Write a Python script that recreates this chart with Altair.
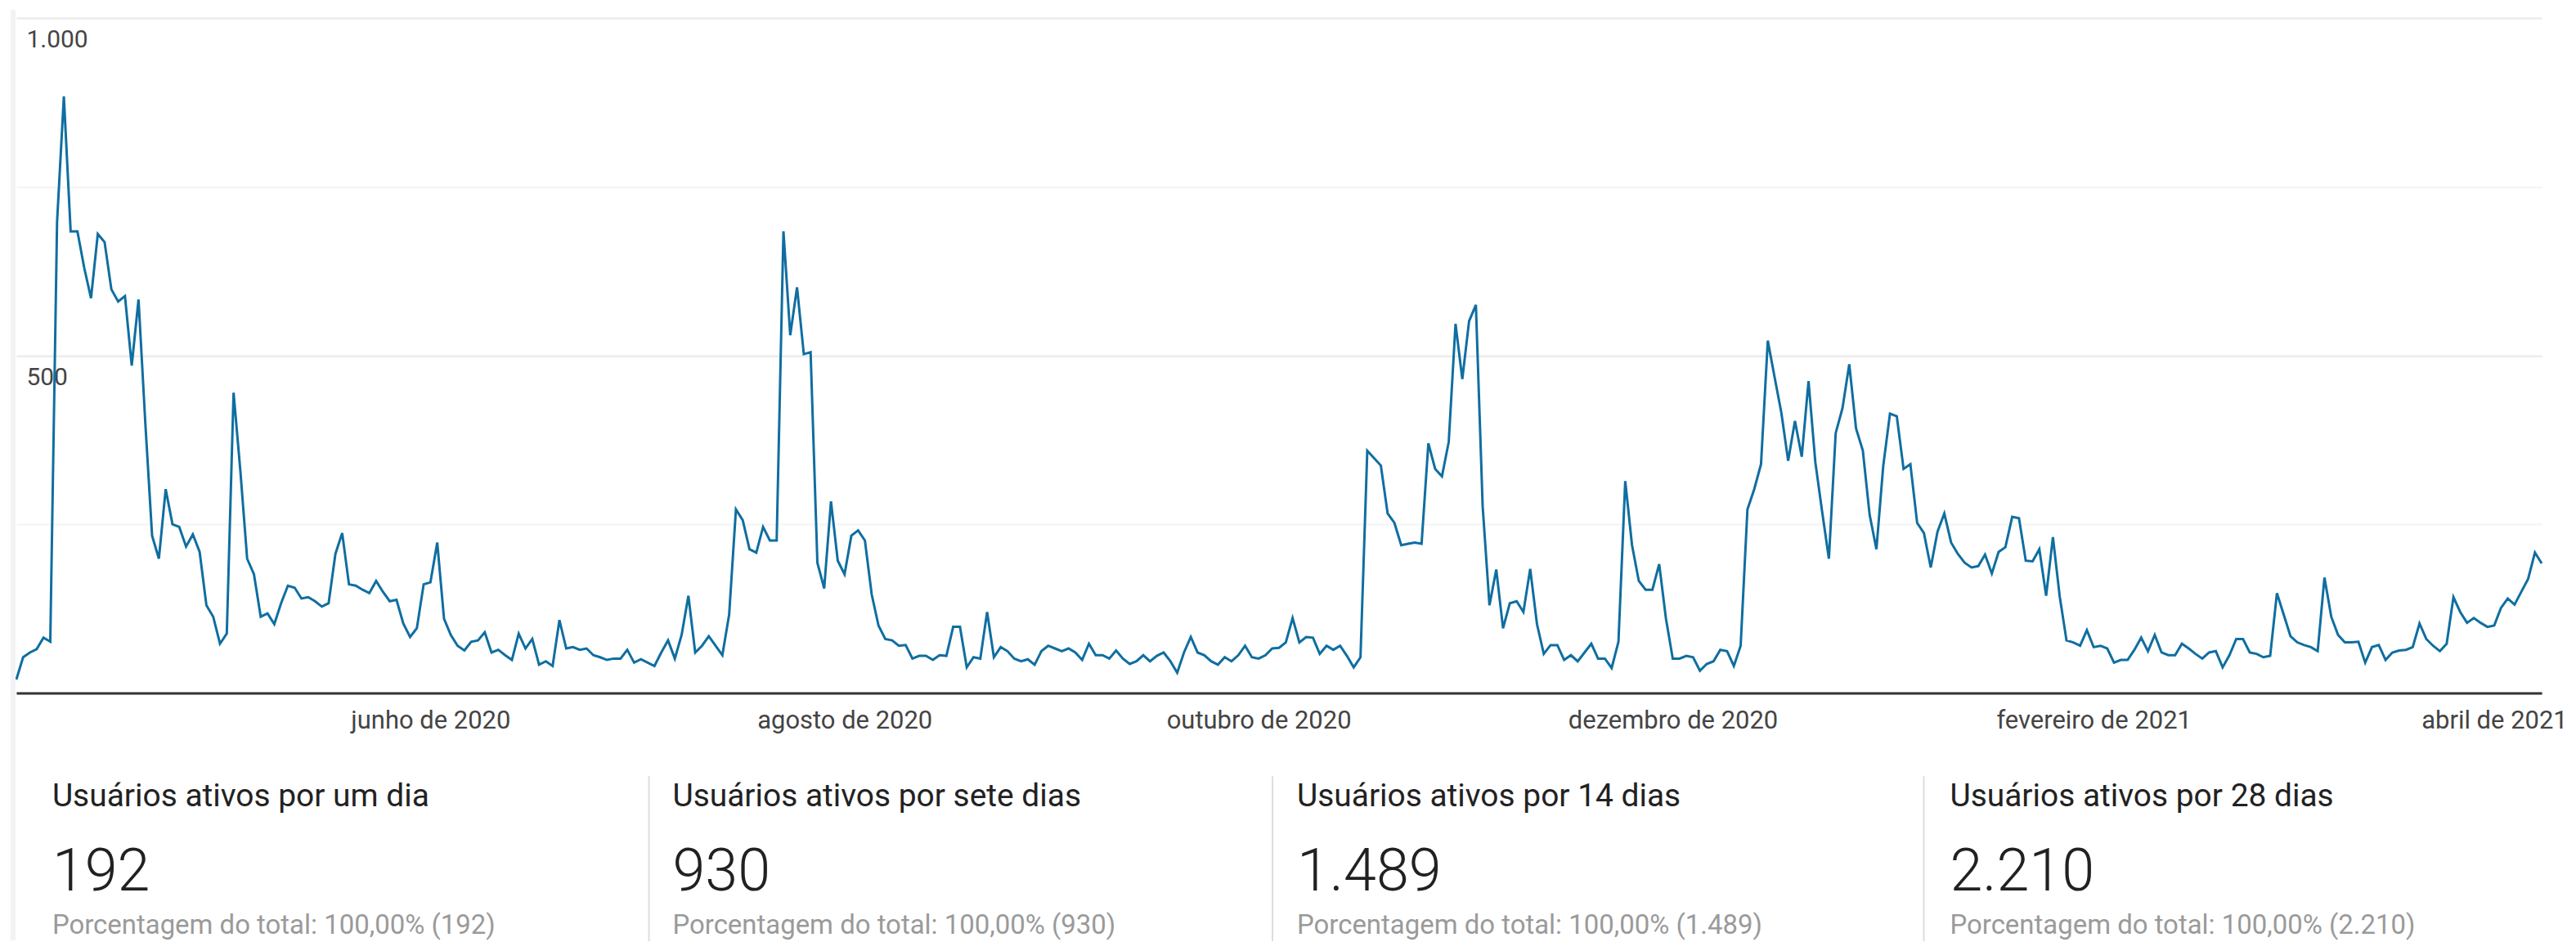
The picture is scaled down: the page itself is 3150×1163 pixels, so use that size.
import altair as alt
import pandas as pd

# ---------------- data ----------------
start_date = "2020-04-01"
usuarios = [
    20, 53, 60, 65, 82, 76, 698, 884, 684, 684,
    630, 585, 680, 668, 598, 580, 588, 485, 583, 400,
    233, 199, 302, 250, 246, 217, 235, 209, 130, 113,
    73, 88, 445, 329, 199, 176, 113, 118, 102, 133,
    159, 156, 140, 142, 136, 128, 133, 206, 237, 161,
    159, 153, 148, 166, 150, 136, 138, 103, 83, 96,
    161, 164, 223, 110, 86, 70, 63, 76, 78, 90,
    60, 64, 56, 49, 88, 66, 80, 42, 47, 40,
    108, 66, 68, 64, 66, 56, 53, 49, 51, 51,
    64, 45, 50, 45, 40, 60, 78, 51, 86, 144,
    60, 70, 84, 70, 56, 116, 272, 256, 213, 208,
    246, 226, 226, 684, 530, 601, 502, 505, 193, 155,
    284, 196, 176, 233, 241, 226, 146, 100, 80, 78,
    70, 71, 51, 55, 55, 49, 56, 55, 98, 98,
    38, 53, 51, 120, 53, 68, 62, 51, 47, 50,
    42, 62, 70, 66, 62, 66, 60, 49, 73, 56,
    56, 51, 63, 51, 43, 47, 56, 47, 55, 60,
    47, 30, 60, 83, 60, 56, 47, 42, 53, 47,
    56, 70, 53, 51, 56, 66, 67, 75, 111, 75,
    83, 82, 58, 70, 64, 70, 55, 38, 53, 359,
    348, 337, 266, 252, 219, 221, 223, 221, 370, 332,
    321, 372, 547, 465, 551, 575, 276, 130, 183, 96,
    133, 136, 120, 184, 102, 58, 71, 71, 49, 56,
    47, 60, 73, 51, 51, 37, 76, 314, 219, 166,
    153, 153, 191, 110, 51, 51, 55, 53, 33, 43,
    47, 64, 62, 40, 70, 272, 302, 339, 522, 468,
    415, 344, 403, 350, 462, 342, 269, 199, 385, 422,
    487, 392, 359, 264, 213, 336, 414, 410, 332, 339,
    252, 237, 186, 239, 266, 223, 206, 193, 186, 188,
    205, 177, 209, 216, 261, 259, 196, 195, 213, 144,
    231, 143, 78, 75, 70, 93, 68, 70, 66, 45,
    49, 49, 64, 82, 62, 86, 60, 56, 56, 73,
    66, 58, 51, 60, 62, 38, 56, 80, 80, 60,
    58, 53, 55, 148, 116, 84, 75, 71, 68, 62,
    171, 113, 86, 75, 75, 76, 45, 68, 71, 49,
    60, 63, 64, 68, 103, 80, 70, 62, 73, 142,
    120, 104, 111, 104, 98, 100, 126, 140, 131, 150,
    169, 208, 192,
]

y_ticks = [0, 250, 500, 750, 1000]
y_tick_labels = ["", "", "500", "", "1.000"]
x_ticks = ["2020-06-01", "2020-08-01", "2020-10-01", "2020-12-01", "2021-02-01", "2021-04-01"]
meses = ["janeiro", "fevereiro", "março", "abril", "maio", "junho", "julho",
         "agosto", "setembro", "outubro", "novembro", "dezembro"]

card_titles = ["Usuários ativos por um dia", "Usuários ativos por sete dias",
               "Usuários ativos por 14 dias", "Usuários ativos por 28 dias"]
card_values = ["192", "930", "1.489", "2.210"]
card_subtitles = ["Porcentagem do total: 100,00% (192)", "Porcentagem do total: 100,00% (930)",
                  "Porcentagem do total: 100,00% (1.489)", "Porcentagem do total: 100,00% (2.210)"]

# ---------------- build ----------------
def ms(d):
    return int(pd.Timestamp(d, tz="UTC").value // 10**6)

dates = pd.date_range(start_date, periods=len(usuarios), freq="D", tz="UTC")
df = pd.DataFrame({"t": [int(d.value // 10**6) for d in dates], "usuarios": usuarios})

FONT = "Roboto"
W, H = 3094, 827
LINE_COLOR = "#0f6ea0"

y_label_expr = " : ".join(
    [f"datum.value == {v} ? '{l}'" for v, l in zip(y_ticks, y_tick_labels)]
) + " : ''"
month_arr = "[" + ",".join(f"'{m}'" for m in meses) + "]"
x_label_expr = f"{month_arr}[utcmonth(datum.value)] + ' de ' + utcyear(datum.value)"

line = alt.Chart(df).mark_line(color=LINE_COLOR, strokeWidth=3, interpolate="linear").encode(
    x=alt.X(
        "t:T",
        scale=alt.Scale(type="utc", domain=[int(df["t"].iloc[0]), int(df["t"].iloc[-1])], nice=False),
        axis=alt.Axis(
            values=[ms(d) for d in x_ticks],
            labelExpr=x_label_expr,
            title=None,
            grid=False,
            ticks=False,
            tickSize=0,
            domain=True,
            domainColor="#333333",
            domainWidth=3,
            labelFlush=False,
            labelOverlap=False,
            labelLimit=0,
            labelAlign="center",
            labelBaseline="alphabetic",
            labelPadding=43,
            labelFont=FONT,
            labelFontSize=31,
            labelColor="#444444",
        ),
    ),
    y=alt.Y(
        "usuarios:Q",
        scale=alt.Scale(domain=[0, 1000], nice=False, zero=True),
        axis=alt.Axis(
            values=y_ticks,
            labelExpr=y_label_expr,
            title=None,
            orient="left",
            domain=False,
            ticks=False,
            tickSize=0,
            grid=True,
            gridColor={"condition": {"test": "datum.value % 500 === 0", "value": "#ececec"}, "value": "#f6f6f6"},
            gridWidth=2.5,
            labelAlign="left",
            labelBaseline="alphabetic",
            labelPadding=-12,
            labelOffset=36,
            labelOverlap=False,
            labelFont=FONT,
            labelFontSize=30,
            labelColor="#444444",
        ),
    ),
)

one = pd.DataFrame({"k": [0]})

layers = [line]

# left panel border
layers.append(
    alt.Chart(one).mark_rule(color="#f3f3f5", strokeWidth=6).encode(
        x=alt.value(-4), y=alt.value(-10), y2=alt.value(1130)
    )
)

card_x = [44, 804, 1569, 2369]
divider_x = [775, 1539, 2337]

for dx in divider_x:
    layers.append(
        alt.Chart(one).mark_rule(color="#dddddd", strokeWidth=2).encode(
            x=alt.value(dx), y=alt.value(929), y2=alt.value(1135)
        )
    )

for i in range(4):
    d = pd.DataFrame({"titulo": [card_titles[i]], "valor": [card_values[i]], "sub": [card_subtitles[i]]})
    base = alt.Chart(d)
    layers.append(
        base.mark_text(align="left", baseline="alphabetic", font=FONT, fontSize=39, color="#222222").encode(
            x=alt.value(card_x[i]), y=alt.value(966), text="titulo:N"
        )
    )
    layers.append(
        base.mark_text(align="left", baseline="alphabetic", font=FONT, fontSize=72, fontWeight=300,
                       color="#212121").encode(
            x=alt.value(card_x[i]), y=alt.value(1069), text="valor:N"
        )
    )
    layers.append(
        base.mark_text(align="left", baseline="alphabetic", font=FONT, fontSize=33, color="#9a9a9a").encode(
            x=alt.value(card_x[i]), y=alt.value(1122), text="sub:N"
        )
    )

chart = alt.layer(*layers).properties(
    width=W,
    height=H,
    autosize=alt.AutoSizeParams(type="none"),
    padding={"left": 12, "top": 13, "right": 34, "bottom": 303},
    background="white",
).configure_view(stroke=None)

chart.save("out.html", embed_options={"renderer": "svg", "actions": False})
